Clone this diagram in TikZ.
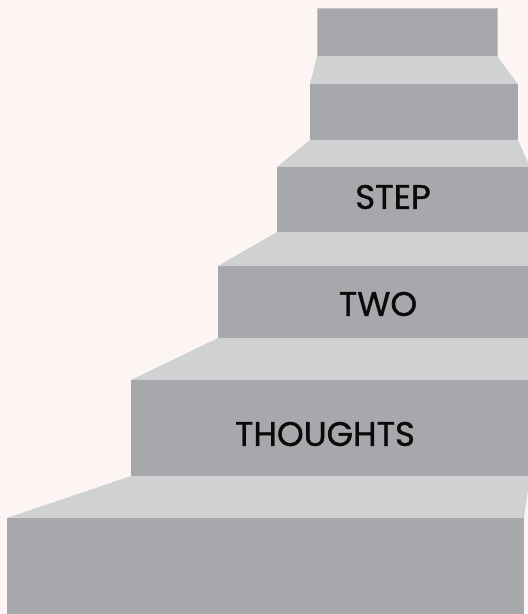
\documentclass[tikz,border=0pt]{standalone}
\usepackage{fontspec}
\setmainfont{Poppins}
\newfontfamily\stepfont{Poppins}[FakeBold=1.1]
\usepackage{xcolor}
\usetikzlibrary{calc}

\definecolor{paper}{HTML}{FDF5F4}
\definecolor{riserc}{HTML}{A7A8AB}
\definecolor{treadc}{HTML}{D0D1D3}
\definecolor{edgec}{HTML}{C3C4C6}
\definecolor{inkc}{HTML}{0A0A0A}

\begin{document}
\begin{tikzpicture}[
  x=1pt, y=-1pt,
  line join=miter,
  riser/.style={fill=riserc},
  tread/.style={fill=treadc},
  label/.style={font=\stepfont\fontsize{34}{36}\selectfont, text=inkc, inner sep=0pt}
]
  % Background
  \fill[paper] (0,0) rectangle (528,614);
  \useasboundingbox (0,0) rectangle (528,614);
  \clip (0,0) rectangle (528,614);

  % Top block
  \filldraw[riser, draw=edgec, line width=0.8pt] (317,8) rectangle (497,56);

  % Treads (light tops)
  \fill[tread] (317,56) -- (497,56) -- (518,84) -- (310,84) -- cycle;
  \fill[tread] (310,140) -- (518,140) -- (530,167) -- (277,167) -- cycle;
  \fill[tread] (277,232) -- (530,232) -- (530,266) -- (218,266) -- cycle;
  \fill[tread] (218,338) -- (530,338) -- (530,380) -- (131,380) -- cycle;
  \fill[tread] (131,476) -- (530,476) -- (524,518) -- (7,518) -- cycle;

  % Risers (dark fronts)
  \foreach \xa/\ya/\xb/\yb in {310/84/518/140, 277/167/530/232, 218/266/530/338,
                               131/380/530/476, 7/518/524/614}{
    \fill[riser] (\xa,\ya) rectangle (\xb,\yb);
  }

  % Words on the steps
  \node[label] (step)     at (393,197) {STEP};
  \node[label] (two)      at (378,304) {TWO};
  \node[label] (thoughts) at (325,434) {THOUGHTS};
\end{tikzpicture}
\end{document}
